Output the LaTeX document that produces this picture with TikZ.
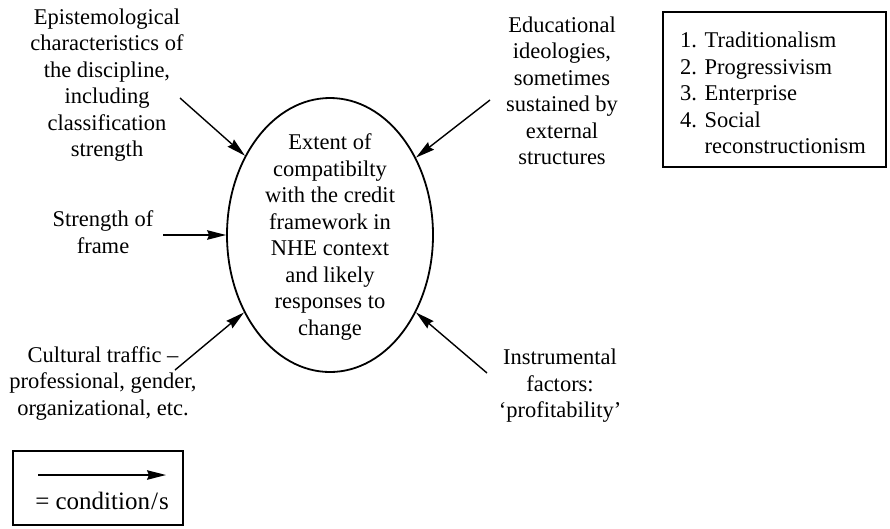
\documentclass[tikz,border=0pt]{standalone}
\usepackage{fontspec}
\setmainfont{Liberation Serif}
\usetikzlibrary{shapes.geometric,arrows.meta}
\tikzset{
  lbl/.style={align=center, inner sep=0pt, font=\fontsize{22.5}{26.5}\selectfont},
  cond/.style={line width=1.4pt, -{Stealth[length=19pt,width=9.5pt,inset=2pt]}},
  frame/.style={draw, line width=1.8pt, rectangle, inner sep=0pt},
}
\begin{document}
\begin{tikzpicture}[x=1pt,y=-1pt]
\useasboundingbox (0,0) rectangle (890,528);
% central ellipse
\node[draw, ellipse, line width=1.8pt, minimum width=206pt, minimum height=274pt, inner sep=0pt] (E) at (330,235) {};
\node[lbl] (Et) at (330,237) {Extent of\\compatibilty\\with the credit\\framework in\\NHE context\\and likely\\responses to\\change};
% conditions
\node[lbl] (EP) at (107,85) {Epistemological\\characteristics of\\the discipline,\\including\\classification\\strength};
\node[lbl] (SF) at (103,232) {Strength of\\frame};
\node[lbl] (ED) at (562,91) {Educational\\ideologies,\\sometimes\\sustained by\\external\\structures};
\node[lbl] (CT) at (103,383) {Cultural traffic --\\professional, gender,\\organizational, etc.};
\node[lbl] (IN) at (560,386) {Instrumental\\factors:\\`profitability'};
\coordinate (EPt) at (180,98);
\coordinate (SFt) at (163,235);
\coordinate (EDt) at (490,100);
\coordinate (CTt) at (175,370);
\coordinate (INt) at (487,373);
\draw[cond] (EPt) -- (E.137);
\draw[cond] (SFt) -- (E.west);
\draw[cond] (EDt) -- (E.42);
\draw[cond] (CTt) -- (E.222);
\draw[cond] (INt) -- (E.318);
% ideologies box
\node[frame, minimum width=223pt, minimum height=155pt] (B) at (774.5,89.5) {};
\node[lbl, align=left, anchor=west] (Bt) at (680,93) {1. Traditionalism\\2. Progressivism\\3. Enterprise\\4. Social\\\phantom{4. }reconstructionism};
% legend
\node[frame, minimum width=170pt, minimum height=74pt] (L) at (98,488) {};
\coordinate (La) at (38,475);
\coordinate (Lb) at (166,475);
\draw[cond] (La) -- (Lb);
\node[lbl, font=\fontsize{25}{28}\selectfont] (Lt) at (102,501) {= condition\kern1pt/\kern1pt s};
\end{tikzpicture}
\end{document}
